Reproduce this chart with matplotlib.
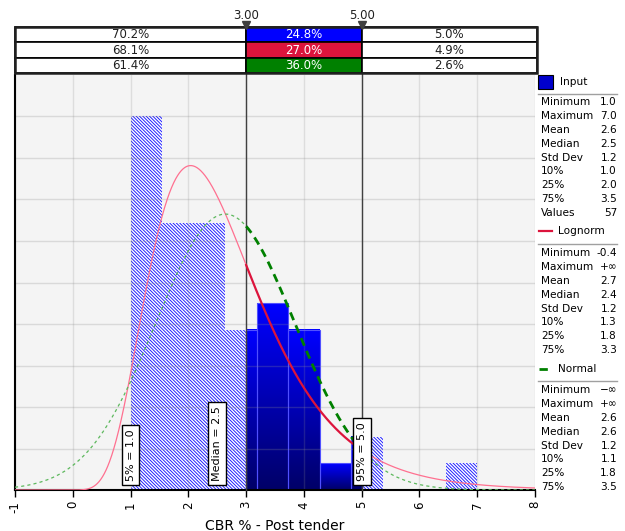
import numpy as np
import matplotlib
matplotlib.use("Agg")
import matplotlib.pyplot as plt
from matplotlib.colors import LinearSegmentedColormap
from matplotlib.patches import Rectangle

plt.rcParams['font.family'] = ['DejaVu Sans']
plt.rcParams['hatch.linewidth'] = 0.7

# histogram of the input (57 values, 11 bins from 1 to 7)
bin_lo = 1.0
bin_hi = 7.0
bin_counts = [14, 10, 10, 6, 7, 6, 1, 2, 0, 0, 1]
n_values = 57

# fitted distributions
lognorm_mu = 1.0425
lognorm_sigma = 0.388
lognorm_shift = -0.4
normal_mean = 2.64
normal_sd = 1.2

# window
x_left = 3.0
x_right = 5.0

# table of probabilities (left / middle / right)
table_rows = [["70.2%", "24.8%", "5.0%"],
              ["68.1%", "27.0%", "4.9%"],
              ["61.4%", "36.0%", "2.6%"]]
table_colors = ["#0000FF", "#DC143C", "#008000"]

# percentile markers
marker_x = [1.0, 2.5, 5.0]
marker_text = ["5% = 1.0", "Median = 2.5", "95% = 5.0"]

# stats panels
stat_names = ["Minimum", "Maximum", "Mean", "Median", "Std Dev", "10%", "25%", "75%"]
input_stats = ["1.0", "7.0", "2.6", "2.5", "1.2", "1.0", "2.0", "3.5"]
input_count = "57"
lognorm_stats = ["-0.4", "+\u221e", "2.7", "2.4", "1.2", "1.3", "1.8", "3.3"]
normal_stats = ["\u2212\u221e", "+\u221e", "2.6", "2.6", "1.2", "1.1", "1.8", "3.5"]

xticks = list(range(-1, 9))


def lognorm_pdf(x):
    z = x - lognorm_shift
    out = np.zeros_like(x)
    ok = z > 0
    out[ok] = np.exp(-(np.log(z[ok]) - lognorm_mu) ** 2 / (2 * lognorm_sigma ** 2)) / (
        z[ok] * lognorm_sigma * np.sqrt(2 * np.pi))
    return out


def normal_pdf(x):
    return np.exp(-(x - normal_mean) ** 2 / (2 * normal_sd ** 2)) / (normal_sd * np.sqrt(2 * np.pi))


W, H = 625, 531
fig = plt.figure(figsize=(W / 100, H / 100), dpi=100)


def fx(px):
    return px / W


def fy(py):
    return 1 - py / H


ax = fig.add_axes([fx(15), fy(490), (535 - 15) / W, (490 - 75) / H])
ax.set_facecolor('#F4F4F4')
ax.set_xlim(-1, 8)
ax.set_ylim(0, 0.5)

# histogram
edges = np.linspace(bin_lo, bin_hi, len(bin_counts) + 1)
width = edges[1] - edges[0]
dens = np.array(bin_counts) / (n_values * width)
grad = LinearSegmentedColormap.from_list("g", ["#000068", "#0000FF"])
for i, h in enumerate(dens):
    if h <= 0:
        continue
    a, b = edges[i], edges[i + 1]
    pieces = []
    if a < x_left:
        pieces.append((a, min(b, x_left), False))
    if b > x_left and a < x_right:
        pieces.append((max(a, x_left), min(b, x_right), True))
    if b > x_right:
        pieces.append((max(a, x_right), b, False))
    for p0, p1, solid in pieces:
        if solid:
            ax.imshow(np.linspace(1, 0, 64).reshape(-1, 1), cmap=grad, aspect='auto',
                      extent=(p0, p1, 0, h), zorder=2, interpolation='bilinear')
            ax.add_patch(Rectangle((p0, 0), p1 - p0, h, fill=False, edgecolor='#5050FF',
                                   linewidth=0.8, zorder=2.1))
        else:
            ax.add_patch(Rectangle((p0, 0), p1 - p0, h, facecolor='white', edgecolor='#2020FF',
                                   hatch='\\' * 10, linewidth=0, zorder=2))
ax.set_xlim(-1, 8)
ax.set_ylim(0, 0.5)

# grid on top of bars, faint
for y in np.arange(0.05, 0.5, 0.05):
    ax.axhline(y, color=(0.55, 0.55, 0.55, 0.26), lw=1, zorder=2.5)
for x in xticks:
    ax.axvline(x, color=(0.55, 0.55, 0.55, 0.22), lw=1, zorder=2.5)

# curves
xs = np.linspace(-1, 8, 1200)
ln = lognorm_pdf(xs)
nm = normal_pdf(xs)
inside = (xs >= x_left) & (xs <= x_right)
left_m = xs <= x_left
right_m = xs >= x_right
for m in (left_m, right_m):
    ax.plot(xs[m], ln[m], color='#FF7090', lw=0.9, zorder=4)
    ax.plot(xs[m], nm[m], color='#5DB85D', lw=0.9, ls=(0, (2.5, 2.5)), zorder=4)
ax.plot(xs[inside], ln[inside], color='#DC143C', lw=1.6, zorder=5)
ax.plot(xs[inside], nm[inside], color='#008000', lw=2.0, ls=(0, (3, 2)), zorder=5)

# window lines running up through table
top_frac = (490 - 24) / (490 - 75)
for xv in (x_left, x_right):
    ax.plot([xv, xv], [0, top_frac], transform=ax.get_xaxis_transform(), color='#404040',
            lw=1, clip_on=False, zorder=3)

# percentile boxes
for xv, t in zip(marker_x, marker_text):
    ax.text(xv, 0.022, t, rotation=90, ha='center', va='bottom', fontsize=8,
            transform=ax.get_xaxis_transform(), zorder=6,
            bbox=dict(boxstyle='square,pad=0.35', facecolor='white', edgecolor='black', lw=1))

# axes styling
for s in ('top', 'right'):
    ax.spines[s].set_visible(False)
ax.spines['left'].set_linewidth(1.5)
ax.spines['bottom'].set_linewidth(1.5)
ax.set_xticks(xticks)
ax.set_yticks([])
ax.tick_params(axis='x', direction='out', length=5, width=1, labelsize=8.5, pad=3)
ax.set_xticklabels([str(t) for t in xticks], rotation=90)
ax.set_xlabel("CBR % - Post tender", fontsize=10, labelpad=4)

# table
tab = fig.add_axes([fx(15), fy(73), (537 - 15) / W, (73 - 27) / H])
x_end = 8 + 2 / 57.8
tab.set_xlim(-1, x_end)
tab.set_ylim(3, 0)
tab.axis('off')
for r, row in enumerate(table_rows):
    spans = [(-1, x_left), (x_left, x_right), (x_right, x_end)]
    for c, (a, b) in enumerate(spans):
        fc = table_colors[r] if c == 1 else 'white'
        tab.add_patch(Rectangle((a, r), b - a, 1, facecolor=fc, edgecolor='black', lw=1.2,
                                clip_on=False))
        tab.text((a + b) / 2, r + 0.52, row[c], ha='center', va='center', fontsize=8.5,
                 color='white' if c == 1 else '#202020')
tab.add_patch(Rectangle((-1, 0), x_end + 1, 3, fill=False, edgecolor='#202020', lw=1.8,
                        clip_on=False))
for xv in (x_left, x_right):
    tab.plot([xv], [-0.12], marker='v', color='#404040', markersize=6, clip_on=False)
    tab.text(xv, -0.75, "%.2f" % xv, ha='center', va='center', fontsize=8.5, color='#202020')

# stats panel
lab_x = fx(541)
val_x = fx(617)
fs = 7.6
fig.patches.append(Rectangle((fx(538), fy(89)), 15 / W, 14 / H, facecolor='#0000CC',
                             edgecolor='black', lw=0.8, transform=fig.transFigure))
fig.text(fx(560), fy(82), "Input", fontsize=fs, va='center')


def sep(py):
    fig.add_artist(plt.Line2D([fx(538), fx(617)], [fy(py), fy(py)], color='#A0A0A0', lw=1,
                              transform=fig.transFigure))


def block(start, vals, extra=None):
    y = start
    for name, v in zip(stat_names, vals):
        fig.text(lab_x, fy(y), name, fontsize=fs, va='center')
        fig.text(val_x, fy(y), v, fontsize=fs, va='center', ha='right')
        y += 13.9
    if extra:
        fig.text(lab_x, fy(y), extra[0], fontsize=fs, va='center')
        fig.text(val_x, fy(y), extra[1], fontsize=fs, va='center', ha='right')


sep(94)
block(102, input_stats, ("Values", input_count))
fig.add_artist(plt.Line2D([fx(539), fx(552)], [fy(231), fy(231)], color='#DC143C', lw=1.6,
                          transform=fig.transFigure))
fig.text(fx(558), fy(231), "Lognorm", fontsize=fs, va='center')
sep(244)
block(253, lognorm_stats)
fig.add_artist(plt.Line2D([fx(539), fx(552)], [fy(369), fy(369)], color='#008000', lw=2,
                          ls=(0, (3, 2)), transform=fig.transFigure))
fig.text(fx(558), fy(369), "Normal", fontsize=fs, va='center')
sep(381)
block(390, normal_stats)

fig.savefig("out.png", dpi=100)
